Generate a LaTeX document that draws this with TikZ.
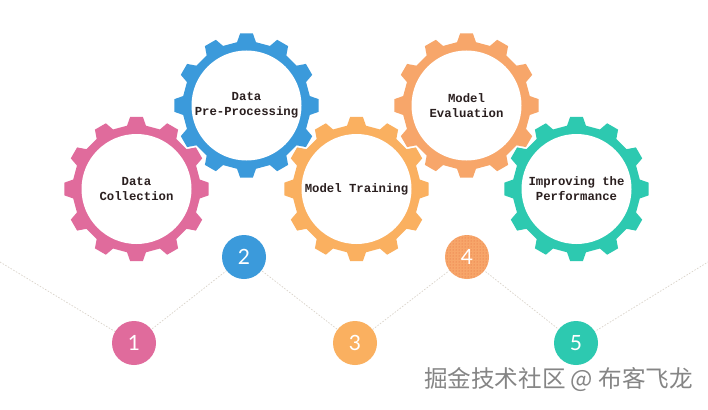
\documentclass[tikz,border=0pt]{standalone}
\usepackage{fontspec}
\newfontfamily\monof{Liberation Mono}
\newfontfamily\numf{Lato}
\newfontfamily\cjk{Noto Sans CJK SC}
\usetikzlibrary{patterns,backgrounds}
\definecolor{cpink}{HTML}{E06B9C}
\definecolor{cblue}{HTML}{3B9ADB}
\definecolor{corange}{HTML}{FAB060}
\definecolor{cdot}{HTML}{F7A66A}
\definecolor{cdotdark}{HTML}{E5683A}
\definecolor{cteal}{HTML}{2DC9B0}
\definecolor{labeltext}{HTML}{2A1F1F}
\definecolor{linecol}{HTML}{DAD3CA}
\definecolor{wmcol}{HTML}{858585}
\tikzset{
  gearinner/.style={circle, fill=white, minimum size=110pt, inner sep=0pt, align=center,
    font=\monof\bfseries\fontsize{12.3}{15}\selectfont, text=labeltext},
  numcirc/.style={circle, minimum size=44pt, inner sep=0pt,
    font=\numf\fontsize{21}{21}\selectfont, text=white},
  dotline/.style={draw=linecol, line width=0.7pt, dash pattern=on 1.5pt off 1.6pt},
  dotted fill/.style={fill=cdot, postaction={pattern=dots, pattern color=cdotdark}},
  gear/.pic={
    \path[pic actions] (-8.5:64) \foreach \a in {0,30,...,330}{
      -- ({\a-5}:72.5) -- ({\a+5}:72.5) -- ({\a+8.5}:64) -- ({\a+21.5}:64)} -- cycle;
  }
}
\begin{document}
\begin{tikzpicture}[x=1pt,y=-1pt]
\useasboundingbox (0,0) rectangle (708,409);

% gears
\pic (gear1) at (136.5,189) [fill=cpink] {gear};
\pic (gear2) at (246.5,105.5) [fill=cblue] {gear};
\pic (gear3) at (356.5,189) [fill=corange] {gear};
\pic (gear4) at (466.5,105.5) [dotted fill] {gear};
\pic (gear5) at (576.5,189) [fill=cteal] {gear};

\node[gearinner] (g1) at (136.5,189) {Data\\Collection};
\node[gearinner] (g2) at (246.5,105.5) {Data\\Pre-Processing};
\node[gearinner] (g3) at (356.5,189) {Model Training};
\node[gearinner] (g4) at (466.5,105.5) {Model\\Evaluation};
\node[gearinner] (g5) at (576.5,189) {Improving the\\Performance};

% numbered circles
\node[numcirc, fill=cpink] (n1) at (134,343) {1};
\node[numcirc, fill=cblue] (n2) at (244,257) {2};
\node[numcirc, fill=corange] (n3) at (355,343) {3};
\node[numcirc, dotted fill] (n4) at (467,257) {4};
\node[numcirc, fill=cteal] (n5) at (576,343) {5};

\coordinate (l0) at (0,262);
\coordinate (l6) at (708,262);
\begin{scope}[on background layer]
\fill[white] (0,0) rectangle (708,409);
\draw[dotline] (l0) -- (n1.center) -- (n2.center) -- (n3.center) -- (n4.center) -- (n5.center) -- (l6);
\end{scope}

\node[font=\cjk\fontsize{23.6}{23.6}\selectfont, text=wmcol] (wm) at (558.5,380) {掘金技术社区 @ 布客飞龙};
\end{tikzpicture}
\end{document}
